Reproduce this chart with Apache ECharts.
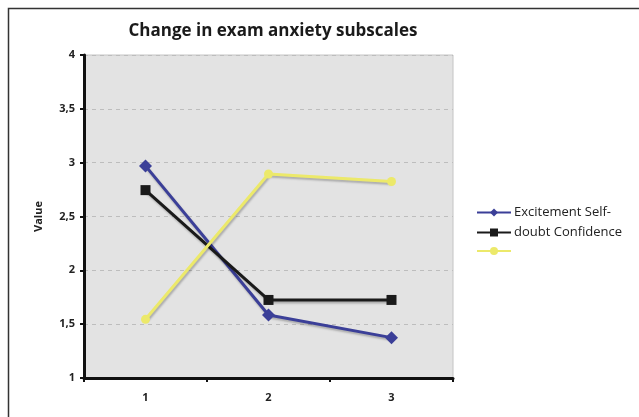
<!DOCTYPE html>
<html>
<head>
<meta charset="utf-8">
<script src="https://cdn.jsdelivr.net/npm/echarts@6/dist/echarts.min.js"></script>
<style>
  html, body { margin: 0; padding: 0; background: #fff; }
  #chart { width: 639px; height: 417px; }
</style>
</head>
<body>
<div id="chart"></div>
<script>
const categories = ['1', '2', '3']
const excitement = [2.97, 1.585, 1.375]
const selfDoubt = [2.745, 1.725, 1.725]
const confidence = [1.545, 2.895, 2.825]
const seriesNames = ['Excitement', 'Self-doubt', 'Confidence']
// the legend in the picture wraps the names oddly, keep it that way
const legendLabels = ['Excitement Self-', 'doubt Confidence', '']

const chart = echarts.init(document.getElementById('chart'))
const font = '"Open Sans", "Liberation Sans", sans-serif'

const makeSeries = (name, data, color, symbol, size) => ({
  name,
  type: 'line',
  data,
  symbol,
  symbolSize: size,
  lineStyle: { color, width: 3, shadowColor: 'rgba(0,0,0,0.25)', shadowOffsetX: 1, shadowOffsetY: 2, shadowBlur: 2 },
  itemStyle: { color, borderWidth: 0 },
  emphasis: { disabled: true }
})

const option = {
  animation: false,
  textStyle: { fontFamily: font },
  graphic: [
    {
      type: 'rect',
      shape: { x: 8.5, y: 8.5, width: 640, height: 420 },
      style: { fill: 'none', stroke: '#333', lineWidth: 1.5 },
      silent: true
    }
  ],
  title: {
    text: 'Change in exam anxiety subscales',
    left: 268,
    textAlign: 'center',
    top: 18,
    textStyle: { fontSize: 17, fontWeight: 'bold', color: '#1a1a1a', fontFamily: font }
  },
  legend: {
    data: seriesNames,
    orient: 'vertical',
    left: 471,
    top: 201,
    itemWidth: 34,
    itemHeight: 10,
    itemGap: 7,
    formatter: name => legendLabels[seriesNames.indexOf(name)],
    textStyle: { fontSize: 13, color: '#222', fontFamily: font, padding: [0, 0, 0, -2] }
  },
  grid: {
    left: 84,
    top: 55,
    width: 369,
    height: 323,
    show: true,
    backgroundColor: '#e3e3e3',
    borderColor: '#c4c4c4',
    borderWidth: 1
  },
  xAxis: {
    type: 'category',
    data: categories,
    boundaryGap: true,
    axisLine: { lineStyle: { color: '#111', width: 3 } },
    axisTick: { show: true, length: 4, lineStyle: { color: '#111', width: 2 } },
    axisLabel: { margin: 14, fontSize: 11, fontWeight: 'bold', color: '#222' },
    splitLine: { show: false }
  },
  yAxis: {
    type: 'value',
    min: 1,
    max: 4,
    interval: 0.5,
    name: 'Value',
    nameLocation: 'middle',
    nameGap: 40,
    nameTextStyle: { fontSize: 11, fontWeight: 'bold', color: '#222' },
    axisLine: { show: true, lineStyle: { color: '#111', width: 3 } },
    axisTick: { show: true, length: 4, lineStyle: { color: '#111', width: 2 } },
    axisLabel: {
      margin: 9,
      fontSize: 11,
      fontWeight: 'bold',
      color: '#222',
      formatter: v => String(v).replace('.', ',')
    },
    splitLine: { show: true, lineStyle: { color: '#bdbdbd', type: [4, 4], width: 1 } }
  },
  series: [
    makeSeries(seriesNames[0], excitement, '#3b3f98', 'diamond', 13),
    makeSeries(seriesNames[1], selfDoubt, '#1a1a1a', 'rect', 10),
    makeSeries(seriesNames[2], confidence, '#ece96a', 'circle', 9)
  ]
}

chart.setOption(option)
</script>
</body>
</html>
